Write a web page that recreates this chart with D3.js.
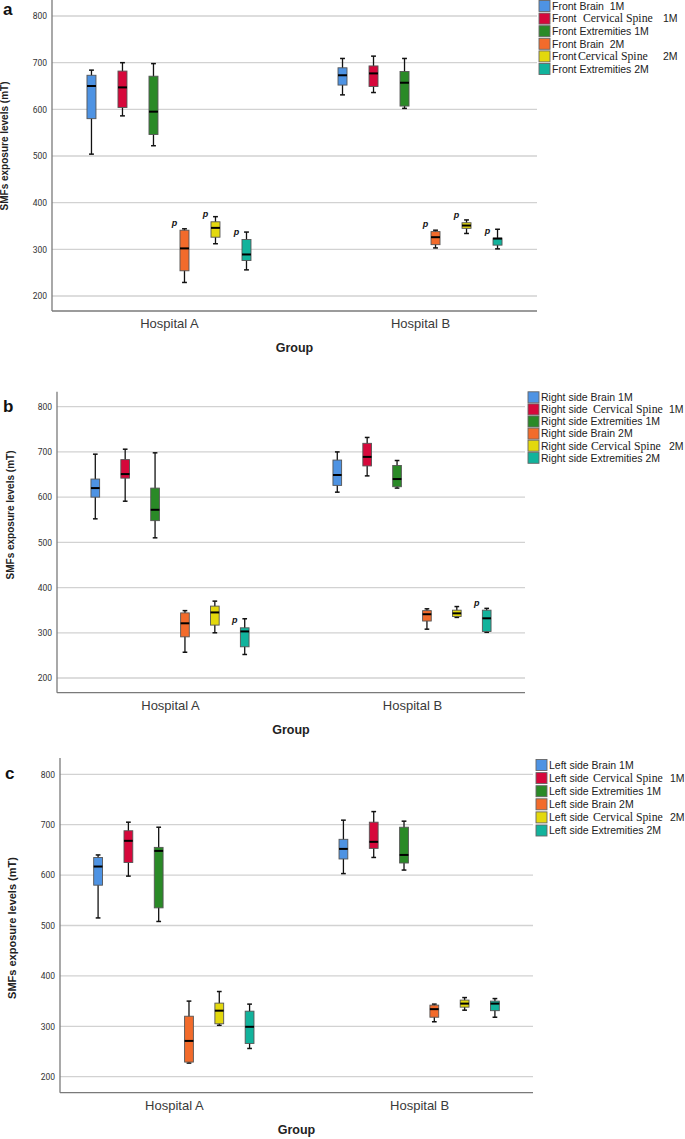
<!DOCTYPE html>
<html>
<head>
<meta charset="utf-8">
<script src="https://cdn.jsdelivr.net/npm/d3@7"></script>
<style>
  body { margin: 0; background: #fff; }
  svg { display: block; font-family: "Liberation Sans", Arial, sans-serif; }
</style>
</head>
<body>
<svg id="chart" width="685" height="1139"></svg>
<script>

// Categories, series, ticks

var hospitals = [ "Hospital A", "Hospital B" ];
var seriesColors = [ "#4e93e3", "#d6083b", "#2a8a27", "#f26b2b", "#e3d80d", "#12b39c" ];
var yTicks = [ 200, 300, 400, 500, 600, 700, 800 ];

// Box stats [min, q1, median, q3, max] in series order:
// Brain 1M, Cervical Spine 1M, Extremities 1M, Brain 2M, Cervical Spine 2M, Extremities 2M

var frontA = [ [504,580,650,673,684], [586,604,647,682,700], [522,546,595,671,698], [229,254,302,341,344], [312,326,346,359,370], [256,276,289,321,337] ];
var frontB = [ [631,652,673,689,709], [636,649,677,693,714], [602,607,657,681,709], [303,310,326,338,341], [334,345,351,357,363], [301,309,323,324,343] ];
var rightA = [ [552,600,620,640,695], [591,642,651,683,706], [510,548,572,620,698], [257,291,321,344,349], [300,317,345,359,370], [252,269,303,311,331] ];
var rightB = [ [611,626,649,682,700], [647,669,689,719,732], [620,623,640,670,681], [308,326,341,349,353], [334,336,343,350,358], [301,303,332,350,354] ];
var leftA  = [ [515,580,617,635,640], [598,625,668,688,705], [508,535,648,655,695], [227,229,271,320,350], [302,305,331,346,369], [256,266,299,330,344] ];
var leftB  = [ [603,632,652,671,709], [635,653,666,705,726], [610,624,640,695,707], [309,318,334,342,344], [332,338,345,352,357], [318,331,345,350,355] ];

// Boxes flagged with a "p"

var frontP = [ [ "Hospital A", 3 ], [ "Hospital A", 4 ], [ "Hospital A", 5 ], [ "Hospital B", 3 ], [ "Hospital B", 4 ], [ "Hospital B", 5 ] ];
var rightP = [ [ "Hospital A", 5 ], [ "Hospital B", 5 ] ];
var leftP  = [];

// Legend labels: [ plain, serif part, suffix ]

var frontLegend = [ [ "Front Brain  1M" ], [ "Front", "Cervical Spine", "1M" ], [ "Front Extremities 1M" ], [ "Front Brain  2M" ], [ "Front", "Cervical Spine", "2M" ], [ "Front Extremities 2M" ] ];
var rightLegend = [ [ "Right side Brain 1M" ], [ "Right side", "Cervical Spine", "1M" ], [ "Right side Extremities 1M" ], [ "Right side Brain 2M" ], [ "Right side", "Cervical Spine", "2M" ], [ "Right side Extremities 2M" ] ];
var leftLegend  = [ [ "Left side Brain 1M" ], [ "Left side", "Cervical Spine", "1M" ], [ "Left side Extremities 1M" ], [ "Left side Brain 2M" ], [ "Left side", "Cervical Spine", "2M" ], [ "Left side Extremities 2M" ] ];

var svg = d3.select( "#chart" );

function drawPanel( cfg ) {

    var g = svg.append( "g" );

    var x = d3.scalePoint()
        .domain( hospitals )
        .range( [ cfg.left, cfg.right ] )
        .padding( cfg.pad );

    var y = d3.scaleLinear()
        .domain( [ 200, 800 ] )
        .range( [ cfg.y200, cfg.y800 ] );

    var sub = x.step() * 0.1235;
    var inner = d3.scaleBand()
        .domain( d3.range( 6 ) )
        .range( [ -3 * sub, 3 * sub ] )
        .paddingInner( 0.71 )
        .paddingOuter( 0.355 );
    var bw = inner.bandwidth();

    // Grid

    g.append( "g" )
        .selectAll( "line" )
        .data( yTicks )
        .join( "line" )
        .attr( "x1", cfg.left )
        .attr( "x2", cfg.right )
        .attr( "y1", function ( d ) { return y( d ); } )
        .attr( "y2", function ( d ) { return y( d ); } )
        .style( "stroke", "#d2d2d2" )
        .style( "stroke-width", 1.3 );

    // Axes

    var yAxis = g.append( "g" )
        .attr( "transform", "translate(" + cfg.left + ",0)" )
        .call( d3.axisLeft( y ).tickValues( yTicks ).tickSize( 0 ).tickPadding( 5 ) );
    yAxis.select( ".domain" ).remove();
    yAxis.selectAll( "text" )
        .style( "font-family", "Roboto, 'Liberation Sans', sans-serif" )
        .style( "font-size", "8.5px" )
        .style( "fill", "#333" );

    var xAxis = g.append( "g" )
        .attr( "transform", "translate(0," + cfg.bottom + ")" )
        .call( d3.axisBottom( x ).tickSize( 0 ).tickPadding( 8 ) );
    xAxis.select( ".domain" ).remove();
    xAxis.selectAll( "text" )
        .style( "font-family", "'Liberation Sans', Arial, sans-serif" )
        .style( "font-size", "13px" )
        .style( "fill", "#3a3a3a" );

    g.append( "line" )
        .attr( "x1", cfg.left ).attr( "x2", cfg.left )
        .attr( "y1", cfg.top ).attr( "y2", cfg.bottom )
        .style( "stroke", "#7a7a7a" )
        .style( "stroke-width", 1.3 );

    g.append( "line" )
        .attr( "x1", cfg.left ).attr( "x2", cfg.right )
        .attr( "y1", cfg.bottom ).attr( "y2", cfg.bottom )
        .style( "stroke", "#7a7a7a" )
        .style( "stroke-width", 1.3 );

    // Axis titles

    g.append( "text" )
        .attr( "transform", "translate(" + cfg.ylabX + "," + cfg.ylabY + ") rotate(-90)" )
        .attr( "text-anchor", "middle" )
        .style( "font-size", cfg.ylabSize + "px" )
        .style( "font-weight", "bold" )
        .style( "fill", "#222" )
        .text( "SMFs exposure levels (mT)" );

    g.append( "text" )
        .attr( "x", ( cfg.left + cfg.right ) / 2 )
        .attr( "y", cfg.bottom + 41 )
        .attr( "text-anchor", "middle" )
        .style( "font-size", "12.5px" )
        .style( "font-weight", "bold" )
        .style( "fill", "#222" )
        .text( "Group" );

    g.append( "text" )
        .attr( "x", cfg.letterX )
        .attr( "y", cfg.letterY )
        .style( "font-size", "17px" )
        .style( "font-weight", "bold" )
        .style( "fill", "#111" )
        .text( cfg.letter );

    // Boxes

    var boxes = [];
    cfg.stats.forEach( function ( arr, h ) {
        arr.forEach( function ( s, i ) {
            boxes.push( { hosp: hospitals[ h ], idx: i, s: s } );
        } );
    } );

    function cx( d ) { return x( d.hosp ) + inner( d.idx ) + bw / 2; }

    var bg = g.append( "g" )
        .selectAll( "g" )
        .data( boxes )
        .join( "g" );

    bg.append( "line" )
        .attr( "x1", cx ).attr( "x2", cx )
        .attr( "y1", function ( d ) { return y( d.s[ 0 ] ); } )
        .attr( "y2", function ( d ) { return y( d.s[ 4 ] ); } )
        .style( "stroke", "#111" )
        .style( "stroke-width", 1.3 );

    [ 0, 4 ].forEach( function ( k ) {
        bg.append( "line" )
            .attr( "x1", function ( d ) { return cx( d ) - bw * 0.27; } )
            .attr( "x2", function ( d ) { return cx( d ) + bw * 0.27; } )
            .attr( "y1", function ( d ) { return y( d.s[ k ] ); } )
            .attr( "y2", function ( d ) { return y( d.s[ k ] ); } )
            .style( "stroke", "#111" )
            .style( "stroke-width", 1.5 );
    } );

    bg.append( "rect" )
        .attr( "x", function ( d ) { return cx( d ) - bw / 2; } )
        .attr( "y", function ( d ) { return y( d.s[ 3 ] ); } )
        .attr( "width", bw )
        .attr( "height", function ( d ) { return y( d.s[ 1 ] ) - y( d.s[ 3 ] ); } )
        .style( "fill", function ( d ) { return seriesColors[ d.idx ]; } )
        .style( "stroke", "#555" )
        .style( "stroke-width", 0.9 );

    bg.append( "line" )
        .attr( "x1", function ( d ) { return cx( d ) - bw / 2; } )
        .attr( "x2", function ( d ) { return cx( d ) + bw / 2; } )
        .attr( "y1", function ( d ) { return y( d.s[ 2 ] ); } )
        .attr( "y2", function ( d ) { return y( d.s[ 2 ] ); } )
        .style( "stroke", "#000" )
        .style( "stroke-width", 2 );

    // p marks

    g.append( "g" )
        .selectAll( "text" )
        .data( cfg.pMarks )
        .join( "text" )
        .attr( "x", function ( d ) { return x( d[ 0 ] ) + inner( d[ 1 ] ) + bw / 2 - 10; } )
        .attr( "y", function ( d ) {
            var s = cfg.stats[ hospitals.indexOf( d[ 0 ] ) ][ d[ 1 ] ];
            return y( s[ 3 ] ) - 4.5;
        } )
        .attr( "text-anchor", "middle" )
        .style( "font-size", "9px" )
        .style( "font-weight", "bold" )
        .style( "font-style", "italic" )
        .style( "fill", "#111" )
        .text( "p" );

    // Legend

    var lg = g.append( "g" )
        .selectAll( "g" )
        .data( cfg.legend )
        .join( "g" )
        .attr( "transform", function ( d, i ) { return "translate(" + cfg.legX + "," + ( cfg.legY + i * cfg.legGap ) + ")"; } );

    lg.append( "rect" )
        .attr( "x", 0 )
        .attr( "y", -5.5 )
        .attr( "width", 11 )
        .attr( "height", 11 )
        .style( "fill", function ( d, i ) { return seriesColors[ i ]; } )
        .style( "stroke", "#666" )
        .style( "stroke-width", 0.9 );

    lg.each( function ( d, i ) {
        var t = d3.select( this ).append( "text" )
            .attr( "y", 3.8 )
            .style( "font-size", "10.5px" )
            .style( "fill", "#222" )
            .style( "white-space", "pre" );
        t.append( "tspan" ).attr( "x", 13 ).text( d[ 0 ] );
        if ( d.length > 1 ) {
            t.append( "tspan" )
                .attr( "x", i === 1 ? cfg.serifX[ 0 ] : cfg.serifX[ 1 ] )
                .style( "font-family", "'Liberation Serif', 'Times New Roman', serif" )
                .style( "font-size", "11.8px" )
                .text( d[ 1 ] );
            t.append( "tspan" ).attr( "x", cfg.suffixX ).text( d[ 2 ] );
        }
    } );
}

drawPanel( {
    letter: "a", letterX: 3, letterY: 15,
    left: 52, right: 537, top: 0, bottom: 311, pad: 0.466,
    y200: 296, y800: 16,
    ylabX: 8, ylabY: 146, ylabSize: 10,
    stats: [ frontA, frontB ], pMarks: frontP, legend: frontLegend,
    legX: 539, legY: 6, legGap: 12.6, serifX: [ 44, 39 ], suffixX: 124
} );

drawPanel( {
    letter: "b", letterX: 3, letterY: 412,
    left: 57, right: 525, top: 391.7, bottom: 692.7, pad: 0.467,
    y200: 678, y800: 406.7,
    ylabX: 14, ylabY: 515, ylabSize: 10,
    stats: [ rightA, rightB ], pMarks: rightP, legend: rightLegend,
    legX: 528, legY: 397.3, legGap: 12.1, serifX: [ 65, 63 ], suffixX: 141
} );

drawPanel( {
    letter: "c", letterX: 5, letterY: 779,
    left: 60, right: 533, top: 758, bottom: 1092.7, pad: 0.464,
    y200: 1076.7, y800: 774.3,
    ylabX: 16, ylabY: 928, ylabSize: 11,
    stats: [ leftA, leftB ], pMarks: leftP, legend: leftLegend,
    legX: 536, legY: 765, legGap: 13.1, serifX: [ 57, 57 ], suffixX: 134
} );

</script>
</body>
</html>
